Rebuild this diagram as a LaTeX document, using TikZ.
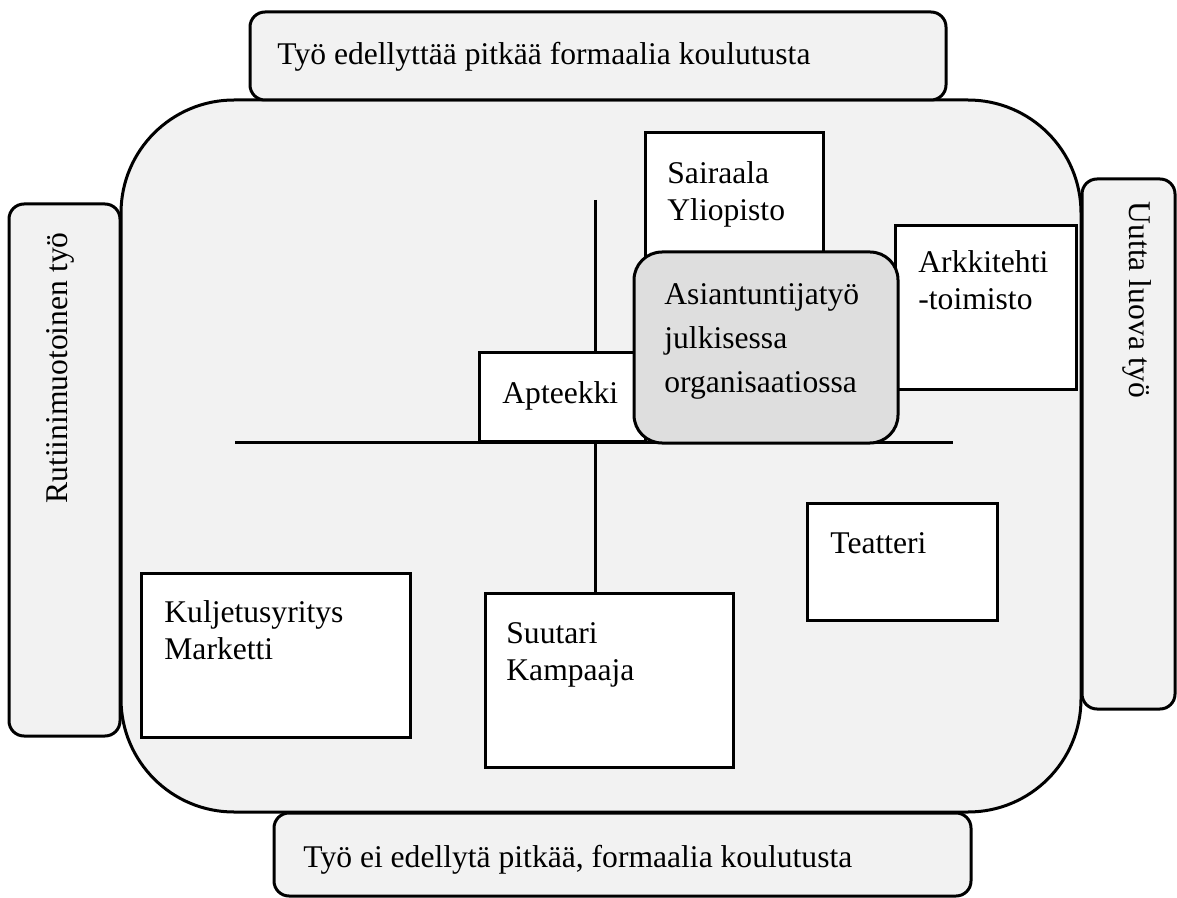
\documentclass[tikz,border=0pt]{standalone}
\usepackage{fontspec}
\setmainfont{Liberation Serif}
\begin{document}
\begin{tikzpicture}[x=0.5pt,y=-0.5pt,
  frame/.style={draw=black, line width=1.5pt},
  panel/.style={frame, fill=panelgray, rounded corners=7.5pt},
  bigpanel/.style={frame, fill=panelgray, rounded corners=56.5pt},
  whitebox/.style={frame, fill=white},
  centerbox/.style={frame, fill=centergray, rounded corners=14pt},
  axis/.style={draw=black, line width=1.5pt},
  txt/.style={inner sep=0pt, anchor=base west, align=left, font=\fontsize{15.8}{18.5}\selectfont},
  widetxt/.style={txt, font=\fontsize{15.8}{22}\selectfont},
  sidetxt/.style={inner sep=0pt, font=\fontsize{15.8}{18.5}\selectfont}
]
\definecolor{panelgray}{HTML}{F2F2F2}
\definecolor{centergray}{HTML}{DEDEDE}
\useasboundingbox (0,0) rectangle (1177,898);

% outer panel
\path[bigpanel] (121,100) rectangle (1081,812);

% side panels
\path[panel] (250,12) rectangle (946,100);
\path[panel] (274,813) rectangle (971,896);
\path[panel] (9,204) rectangle (120,736);
\path[panel] (1082,179) rectangle (1175,709);

\node[txt] (top) at (277,65) {Työ edellyttää pitkää formaalia koulutusta};
\node[txt] (bottom) at (303,867) {Työ ei edellytä pitkää, formaalia koulutusta};
\node[sidetxt, rotate=90] (left) at (60,368) {Rutiinimuotoinen työ};
\node[sidetxt, rotate=-90] (right) at (1137,300) {Uutta luova työ};

% axes
\coordinate (vtop) at (595,200);
\coordinate (hl) at (235,442);
\coordinate (hr) at (953,442);

% lower boxes
\path[whitebox] (141,573) rectangle (410,737);
\path[whitebox] (485,593) rectangle (733,767);
\path[whitebox] (807,503) rectangle (997,620);
\coordinate (suutaritop) at (595,593);
\draw[axis] (vtop) -- (suutaritop);
\draw[axis] (hl) -- (hr);

% upper boxes
\path[whitebox] (645,133) rectangle (823,270);
\path[whitebox] (895,226) rectangle (1076,390);
\path[whitebox] (479,353) rectangle (645,441);
\path[centerbox] (634,252) rectangle (898,443);

\node[txt] (sair) at (667,221) {Sairaala\\Yliopisto};
\node[txt] (ark) at (918,310) {Arkkitehti\\-toimisto};
\node[txt] (apt) at (502,403) {Apteekki};
\node[widetxt] (asi) at (664,393) {Asiantuntijatyö\\julkisessa\\organisaatiossa};
\node[txt] (tea) at (830,553) {Teatteri};
\node[txt] (kul) at (164,659) {Kuljetusyritys\\Marketti};
\node[txt] (suu) at (506,680) {Suutari\\Kampaaja};
\end{tikzpicture}
\end{document}
